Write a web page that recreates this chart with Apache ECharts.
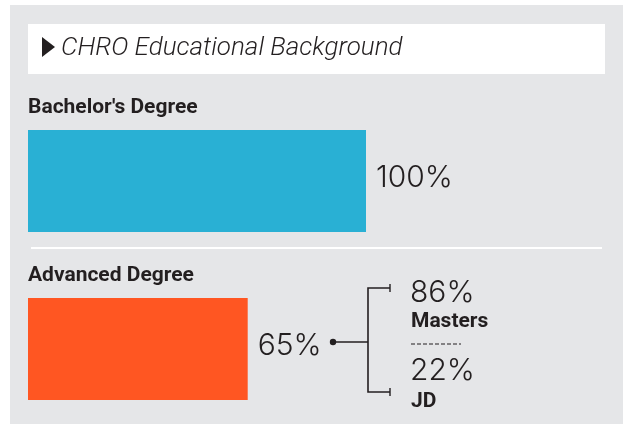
<!DOCTYPE html>
<html><head><meta charset="utf-8">
<script src="https://cdn.jsdelivr.net/npm/echarts@6/dist/echarts.min.js"></script>
<style>html,body{margin:0;padding:0;background:#fff}#c{width:629px;height:424px}</style>
</head><body><div id="c"></div>
<script>
var title = "CHRO Educational Background";
var categories = ["Bachelor's Degree", "Advanced Degree"];
var values = [100, 65];
var subCategories = ["Masters", "JD"];
var subValues = [86, 22];

var colors = ['#29b0d4', '#ff5622'];
var dark = '#231f20';
var numFont = 'Inter';
var chart = echarts.init(document.getElementById('c'), null, {renderer: 'canvas'});
var option = {
  animation: false,
  backgroundColor: '#ffffff',
  grid: {left: 28, top: 181, width: 338, height: 168},
  xAxis: {type: 'value', min: 0, max: 100, show: false},
  yAxis: {
    type: 'category', data: categories, inverse: true, boundaryGap: false,
    axisLine: {show: false}, axisTick: {show: false}, splitLine: {show: false},
    axisLabel: {
      inside: true, margin: 0, align: 'left', verticalAlign: 'bottom',
      padding: [0, 0, 63, 0],
      fontFamily: 'Roboto', fontWeight: 'bold', fontSize: 21, color: dark
    },
    z: 5
  },
  series: [{
    type: 'bar', barWidth: 102,
    data: values.map(function (v, i) { return {value: v, itemStyle: {color: colors[i]}}; }),
    label: {
      show: true, position: 'right', distance: 10, offset: [0, -3],
      formatter: function (p) { return p.value + '%'; },
      fontFamily: numFont, fontWeight: 300, fontSize: 30, color: dark
    },
    z: 3
  }],
  graphic: [
    {type: 'rect', shape: {x: 10, y: 5, width: 613, height: 419}, style: {fill: '#e5e6e8'}, z: -10, silent: true},
    {type: 'rect', shape: {x: 28, y: 24, width: 577, height: 50}, style: {fill: '#ffffff'}, z: -5, silent: true},
    {type: 'polygon', shape: {points: [[42, 37], [55, 47], [42, 57]]}, style: {fill: dark}, z: 10},
    {type: 'text', x: 61, y: 48, style: {text: title, fontFamily: 'Roboto', fontStyle: 'italic', fontWeight: 300, fontSize: 26, fill: dark, verticalAlign: 'middle'}, z: 10},
    {type: 'rect', shape: {x: 31, y: 247, width: 571, height: 2}, style: {fill: '#ffffff'}, z: -5},
    {type: 'circle', shape: {cx: 333, cy: 342, r: 3.2}, style: {fill: dark}, z: 10},
    {type: 'polyline', shape: {points: [[333, 342], [368, 342]]}, style: {stroke: dark, lineWidth: 1.6}, z: 10},
    {type: 'polyline', shape: {points: [[390, 288], [368, 288], [368, 392], [390, 392]]}, style: {stroke: dark, lineWidth: 1.6, fill: null}, z: 10},
    {type: 'polyline', shape: {points: [[390, 284], [390, 292]]}, style: {stroke: dark, lineWidth: 1.4}, z: 10},
    {type: 'polyline', shape: {points: [[390, 388], [390, 396]]}, style: {stroke: dark, lineWidth: 1.4}, z: 10},
    {type: 'text', x: 410, y: 308, style: {text: subValues[0] + '%', fontFamily: numFont, fontWeight: 300, fontSize: 30, fill: dark, verticalAlign: 'bottom'}, z: 10},
    {type: 'text', x: 411, y: 332, style: {text: subCategories[0], fontFamily: 'Roboto', fontWeight: 'bold', fontSize: 21, fill: dark, verticalAlign: 'bottom'}, z: 10},
    {type: 'polyline', shape: {points: [[411, 344], [461, 344]]}, style: {stroke: dark, lineWidth: 1, lineDash: [4, 2]}, z: 10},
    {type: 'text', x: 410, y: 386, style: {text: subValues[1] + '%', fontFamily: numFont, fontWeight: 300, fontSize: 30, fill: dark, verticalAlign: 'bottom'}, z: 10},
    {type: 'text', x: 411, y: 412, style: {text: subCategories[1], fontFamily: 'Roboto', fontWeight: 'bold', fontSize: 21, fill: dark, verticalAlign: 'bottom'}, z: 10}
  ]
};
chart.setOption(option);
</script></body></html>
